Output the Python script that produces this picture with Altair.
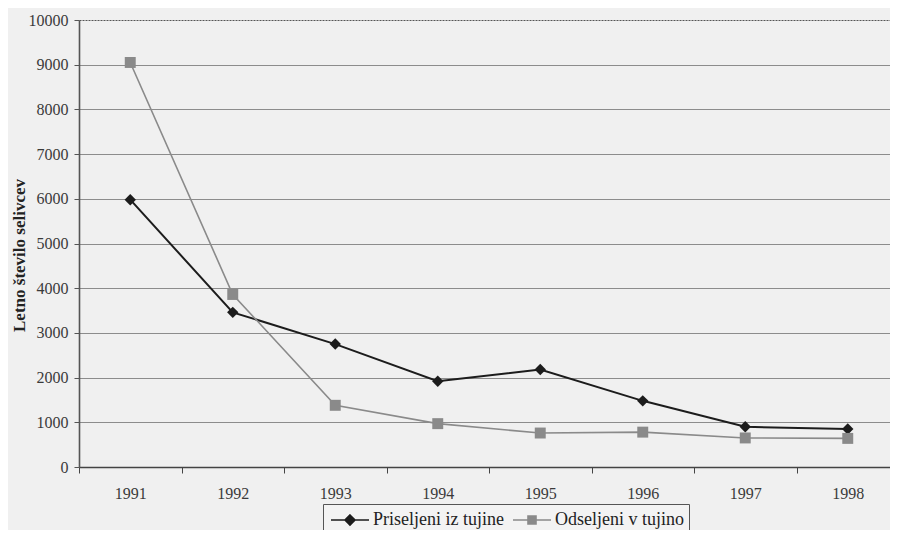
import altair as alt
import pandas as pd

years = ["1991", "1992", "1993", "1994", "1995", "1996", "1997", "1998"]
priseljeni = [5980, 3460, 2750, 1920, 2180, 1480, 900, 850]
odseljeni = [9050, 3860, 1380, 970, 760, 780, 650, 640]
series_names = ["Priseljeni iz tujine", "Odseljeni v tujino"]
y_ticks = list(range(0, 10001, 1000))

df = pd.DataFrame({
    "year": years * 2,
    "value": priseljeni + odseljeni,
    "series": [series_names[0]] * len(years) + [series_names[1]] * len(years),
})

SERIF = "Liberation Serif"
colors = ["#1c1c1c", "#8a8a8a"]

x_enc = alt.X(
    "year:N",
    scale=alt.Scale(type="band", paddingInner=0, paddingOuter=0, range=[0, 820]),
    axis=alt.Axis(
        title=None, labelAngle=0, labelFont=SERIF, labelFontSize=16,
        labelColor="#3a3a3a", tickBand="extent", tickSize=6, tickColor="#444",
        tickWidth=1, domainColor="#444", domainWidth=1.6, labelPadding=12,
        grid=False,
    ),
)
y_enc = alt.Y(
    "value:Q",
    scale=alt.Scale(domain=[0, 10000], nice=False),
    axis=alt.Axis(
        title="Letno število selivcev", titleFont=SERIF, titleFontSize=17,
        titleFontWeight="bold", titleColor="#222", titlePadding=0, titleY=235,
        values=y_ticks, format="d", labelFont=SERIF, labelFontSize=16,
        labelColor="#3a3a3a", labelPadding=6, tickSize=5, tickColor="#555",
        domainColor="#555", domainWidth=1.6,
        grid=True,
        gridColor={"condition": {"test": "datum.value === 10000", "value": "#555"}, "value": "#8c8c8c"},
        gridDash={"condition": {"test": "datum.value === 10000", "value": [2, 1]}, "value": []},
        gridWidth=1,
    ),
)

color_scale = alt.Scale(domain=series_names, range=colors)

base = alt.Chart(df)

lines = base.mark_line().encode(
    x=x_enc, y=y_enc,
    color=alt.Color("series:N", scale=color_scale, legend=None),
    strokeWidth=alt.StrokeWidth("series:N", scale=alt.Scale(domain=series_names, range=[2, 1.6]), legend=None),
)

points = base.mark_point(filled=True, opacity=1).encode(
    x=x_enc, y=y_enc,
    color=alt.Color("series:N", scale=color_scale, legend=None),
    shape=alt.Shape("series:N", scale=alt.Scale(domain=series_names, range=["diamond", "square"]), legend=None),
    size=alt.Size("series:N", scale=alt.Scale(domain=series_names, range=[130, 120]), legend=None),
)

diamond_line = "M-1.9,0L1.9,0M0,-0.5L0.5,0L0,0.5L-0.5,0Z"
square_line = "M-1.9,0L1.9,0M-0.4,-0.4L0.4,-0.4L0.4,0.4L-0.4,0.4Z"

leg = alt.Legend(
    title=None, orient="none", legendX=244, legendY=484, direction="horizontal",
    columns=2, labelFont=SERIF, labelFontSize=18, labelColor="#222",
    symbolSize=400, symbolOffset=11, symbolStrokeWidth=1.6, labelOffset=12,
    columnPadding=5, strokeColor="#555", padding=5, fillColor="#f3f3f3",
)

legend_layer = base.transform_filter("datum.value < 0").mark_point(filled=True, opacity=1).encode(
    color=alt.Color("series:N", scale=color_scale, legend=leg),
    stroke=alt.Stroke("series:N", scale=color_scale, legend=leg),
    shape=alt.Shape("series:N", scale=alt.Scale(domain=series_names, range=[diamond_line, square_line]), legend=leg),
)

chart = alt.layer(lines, points, legend_layer).resolve_scale(
    color="independent", shape="independent", stroke="independent"
).properties(
    width=811, height=447,
    autosize=alt.AutoSizeParams(type="none"),
    padding={"left": 71, "top": 12, "right": 0, "bottom": 63},
    background="#f0f0f0",
).configure_view(stroke=None)

chart.save("out.html", embed_options={"renderer": "svg", "actions": False})
